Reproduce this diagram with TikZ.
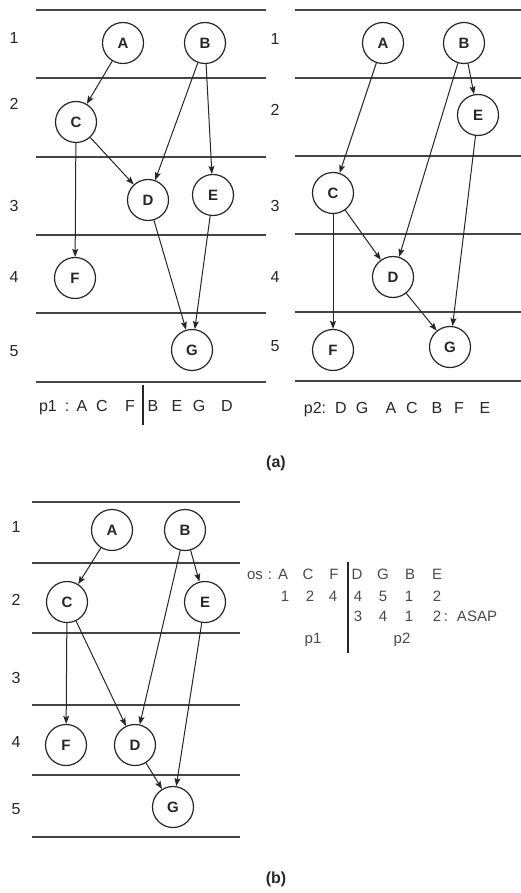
\documentclass[tikz,border=0pt]{standalone}
\usepackage{fontspec}
\setmainfont{Liberation Sans}
\usetikzlibrary{arrows.meta}
\definecolor{ink}{HTML}{262626}
\definecolor{rulec}{HTML}{444444}
\definecolor{tabc}{HTML}{4A4A4A}
\begin{document}
\begin{tikzpicture}[x=1pt,y=-1pt,
 vtx/.style={circle,draw=ink,line width=1.2pt,minimum size=41pt,inner sep=0pt,font=\fontsize{15}{15}\selectfont\bfseries,text=ink},
 edge/.style={draw=ink,line width=1pt,-{Stealth[length=8pt,width=6pt,inset=1.5pt]}},
 rule/.style={draw=rulec,line width=1.5pt},
 rowlab/.style={font=\fontsize{16}{16}\selectfont,text=ink,inner sep=0pt},
 seq/.style={font=\fontsize{16}{16}\selectfont,text=ink,inner sep=0pt,anchor=base},
 tab/.style={font=\fontsize{15}{15}\selectfont,text=tabc,inner sep=0pt,anchor=base},
 capt/.style={font=\fontsize{16}{16}\selectfont\bfseries,text=ink},
 bar/.style={draw=ink,line width=2.5pt}]
\useasboundingbox (0,0) rectangle (521,893);

% ---------- (a) left ----------
\foreach \y in {10,78,157,235,313,382} \draw[rule] (36,\y) -- (266,\y);
\foreach \t/\y [count=\i] in {1/38,2/104,3/206,4/277,5/351}
  \node[rowlab] (la\i) at (14,\y) {\t};
\node[vtx] (a1) at (123,43) {A};
\node[vtx] (b1) at (205,43) {B};
\node[vtx] (c1) at (76,122) {C};
\node[vtx] (d1) at (148,200) {D};
\node[vtx] (e1) at (213,195) {E};
\node[vtx] (f1) at (75,278) {F};
\node[vtx] (g1) at (192,350) {G};
\draw[edge] (a1) -- (c1);
\draw[edge] (b1) -- (d1);
\draw[edge] (b1) -- (e1);
\draw[edge] (c1) -- (d1);
\draw[edge] (c1) -- (f1);
\draw[edge] (d1) -- (g1);
\draw[edge] (e1) -- (g1);
\foreach \t/\x [count=\i] in {p1/48,:/67,A/82,C/102,F/130,B/153,E/177,G/199,D/227}
  \node[seq] (sa\i) at (\x,411) {\t};
\coordinate (pa1) at (143,385);
\coordinate (pa2) at (143,425);
\draw[bar] (pa1) -- (pa2);

% ---------- (a) right ----------
\foreach \y in {10,78,156,234,312,381} \draw[rule] (295,\y) -- (521,\y);
\foreach \t/\y [count=\i] in {1/39,2/110,3/206,4/277,5/346}
  \node[rowlab] (lb\i) at (275,\y) {\t};
\node[vtx] (a2) at (383,43) {A};
\node[vtx] (b2) at (464,43) {B};
\node[vtx] (e2) at (478,115) {E};
\node[vtx] (c2) at (333,193) {C};
\node[vtx] (d2) at (393,277) {D};
\node[vtx] (f2) at (333,350) {F};
\node[vtx] (g2) at (450,347) {G};
\draw[edge] (a2) -- (c2);
\draw[edge] (b2) -- (d2);
\draw[edge] (b2) -- (e2);
\draw[edge] (c2) -- (d2);
\draw[edge] (c2) -- (f2);
\draw[edge] (d2) -- (g2);
\draw[edge] (e2) -- (g2);
\foreach \t/\x [count=\i] in {p2:/315,D/341,G/362,A/391,C/412,B/437,F/459,E/485}
  \node[seq] (sb\i) at (\x,413) {\t};

\node[capt] (capa) at (276,463) {(a)};

% ---------- (b) ----------
\foreach \y in {502,563,633,705,775,837} \draw[rule] (32,\y) -- (240,\y);
\foreach \t/\y [count=\i] in {1/527,2/600,3/678,4/742,5/809}
  \node[rowlab] (lc\i) at (16,\y) {\t};
\node[vtx] (a3) at (112,530) {A};
\node[vtx] (b3) at (185,530) {B};
\node[vtx] (c3) at (67,602) {C};
\node[vtx] (e3) at (205,602) {E};
\node[vtx] (f3) at (66,745) {F};
\node[vtx] (d3) at (135,745) {D};
\node[vtx] (g3) at (173,807) {G};
\draw[edge] (a3) -- (c3);
\draw[edge] (b3) -- (d3);
\draw[edge] (b3) -- (e3);
\draw[edge] (c3) -- (f3);
\draw[edge] (c3) -- (d3);
\draw[edge] (d3) -- (g3);
\draw[edge] (e3) -- (g3);

% table
\foreach \t/\x [count=\i] in {os/255,:/270,A/283,C/308,F/334,D/357,G/383,B/410,E/437}
  \node[tab] (ta\i) at (\x,579) {\t};
\foreach \t/\x [count=\i] in {1/285,2/310,4/333,4/358,5/383,1/409,2/437}
  \node[tab] (tb\i) at (\x,601) {\t};
\foreach \t/\x [count=\i] in {3/358,4/383,1/409,2/437,:/446,ASAP/477}
  \node[tab] (tc\i) at (\x,621) {\t};
\node[tab] (tp1) at (313,643) {p1};
\node[tab] (tp2) at (402,643) {p2};
\coordinate (pb1) at (348,562);
\coordinate (pb2) at (348,653);
\draw[bar] (pb1) -- (pb2);

\node[capt] (capb) at (276,879) {(b)};
\end{tikzpicture}
\end{document}
